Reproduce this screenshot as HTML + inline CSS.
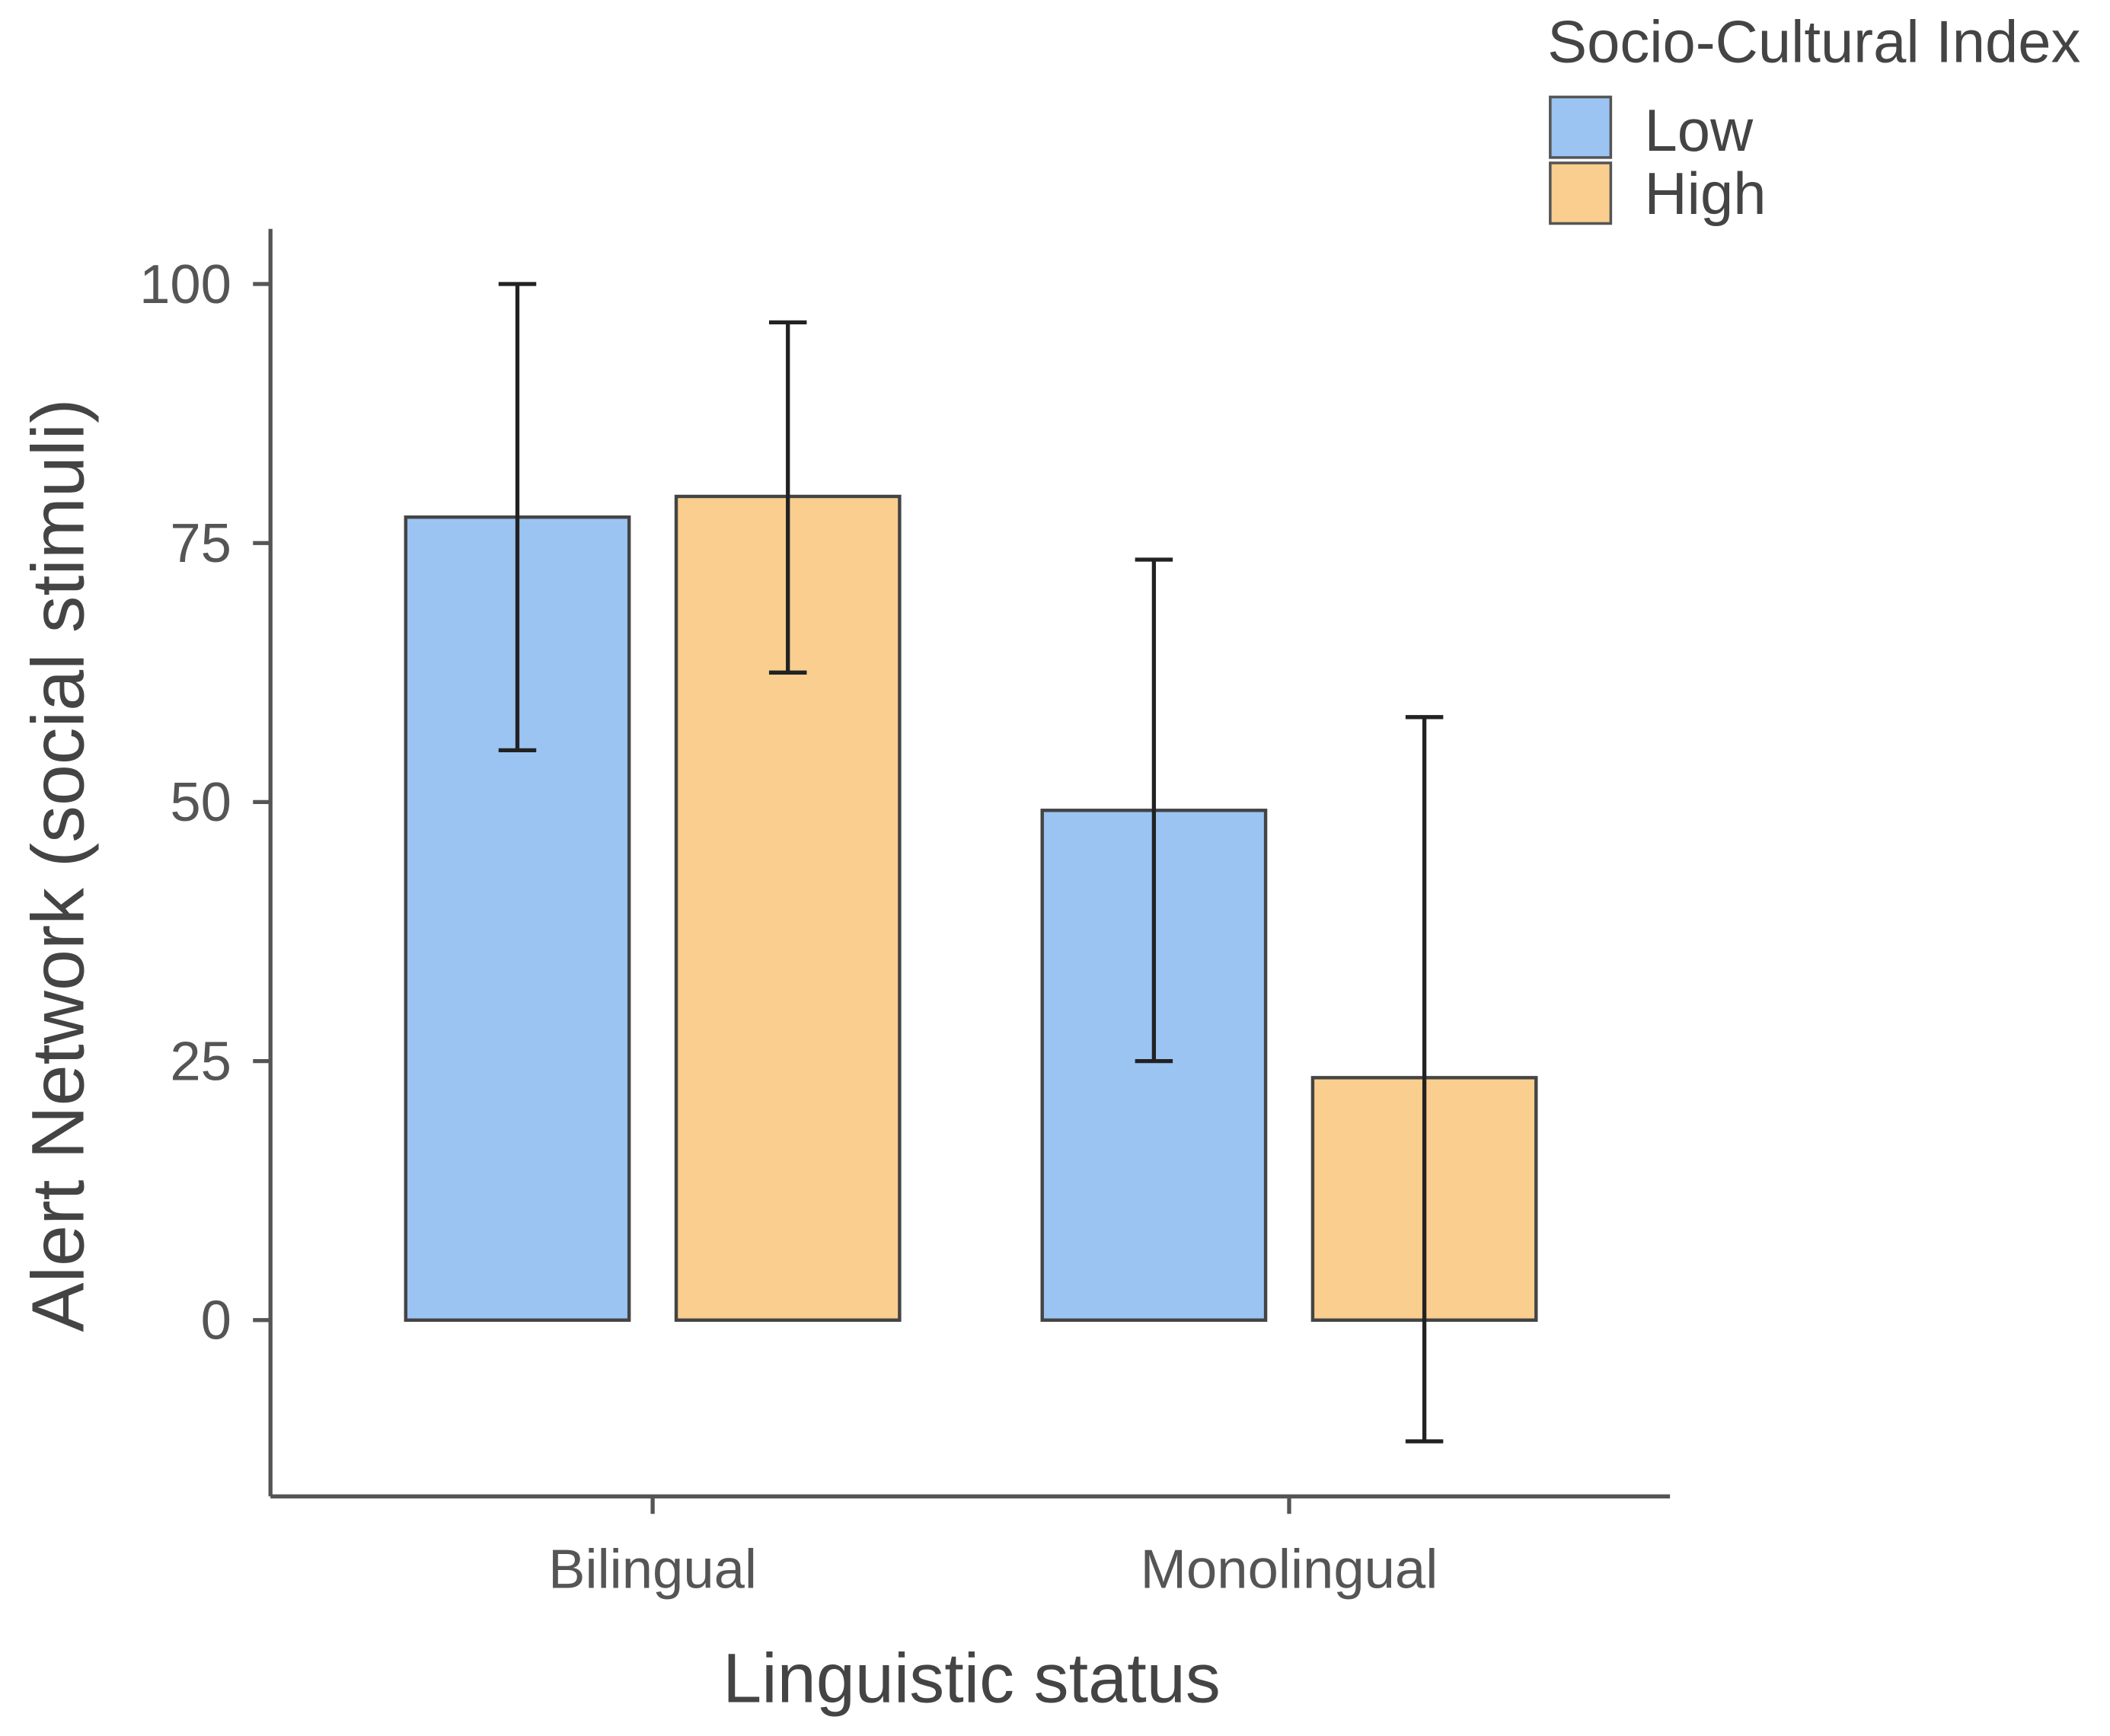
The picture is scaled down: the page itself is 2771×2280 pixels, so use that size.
<!DOCTYPE html>
<html><head><meta charset="utf-8"><style>
html,body{margin:0;padding:0;background:#fff;}
svg{display:block;}
text{font-family:"Liberation Sans",sans-serif;}
</style></head><body>
<svg id="chart" width="2771" height="2280" viewBox="0 0 1568 1290" xmlns="http://www.w3.org/2000/svg">
<g id="plot"></g>
<text x="0" y="0" transform="translate(62,643) rotate(-90)" text-anchor="middle" font-size="55" fill="#444">Alert Network (social stimuli)</text>
<text x="722" y="1265" text-anchor="middle" font-size="52" fill="#444">Linguistic status</text>
<g>
<text x="1150" y="46" font-size="44" fill="#444">Socio-Cultural Index</text>
<rect x="1152" y="72" width="45" height="45" fill="#9bc4f3" stroke="#555" stroke-width="2"/>
<text x="1222" y="112" font-size="44" fill="#444">Low</text>
<rect x="1152" y="121" width="45" height="45" fill="#f9ce8e" stroke="#555" stroke-width="2"/>
<text x="1222" y="159" font-size="44" fill="#444">High</text>
</g>
</svg>
<script>
const categories = ["Bilingual", "Monolingual"];
const seriesNames = ["Low", "High"];
const lowMeans = [77.5, 49.2];
const highMeans = [79.5, 23.4];
const lowUpper = [100, 73.4];
const lowLower = [55, 25];
const highUpper = [96.3, 58.2];
const highLower = [62.5, -11.7];
const yTicks = [0, 25, 50, 75, 100];

const NS = "http://www.w3.org/2000/svg";
const g = document.getElementById("plot");
const y0 = 981, pxPer = 7.7;
function yScale(v){ return y0 - v * pxPer; }
const catCenters = [485, 958];
function xScale(i){ return catCenters[0] + i * (catCenters[1] - catCenters[0]); }
const barW = 166, gap = 35;
function mk(tag, attrs){ const e = document.createElementNS(NS, tag); for (const k in attrs) e.setAttribute(k, attrs[k]); g.appendChild(e); return e; }

let ax = mk("line", {x1:201, y1:170, x2:201, y2:1112, stroke:"#555", "stroke-width":3});


let bx = mk("line", {x1:201, y1:1112, x2:1241, y2:1112, stroke:"#555", "stroke-width":3});



yTicks.forEach(t => {
  const y = yScale(t);
  const tk = mk("line", {x1:188, y1:y, x2:201, y2:y, stroke:"#555", "stroke-width":3});
  
  
  const tl = mk("text", {x:172, y:y + 14, "text-anchor":"end", "font-size":41, fill:"#555"});
  tl.textContent = t;
  
  
});

categories.forEach((c, i) => {
  const cx = xScale(i);
  const tk = mk("line", {x1:cx, y1:1112, x2:cx, y2:1125, stroke:"#555", "stroke-width":3});
  
  
  const tl = mk("text", {x:cx, y:1180, "text-anchor":"middle", "font-size":41, fill:"#555"});
  tl.textContent = c;
  
  

  const series = [[lowMeans, lowUpper, lowLower, "#9bc4f3"], [highMeans, highUpper, highLower, "#f9ce8e"]];
  series.forEach((s, j) => {
    const left = j === 0 ? cx - gap/2 - barW : cx + gap/2;
    const yt = yScale(s[0][i]), yb = yScale(0);
    const r = mk("rect", {x:left, y:Math.min(yt,yb), width:barW, height:Math.abs(yb-yt), fill:s[3], stroke:"#444", "stroke-width":2.5});
    
    
    const mx = left + barW/2, yu = yScale(s[1][i]), yl = yScale(s[2][i]);
    const e = mk("path", {d:`M${mx-14},${yu}H${mx+14}M${mx},${yu}V${yl}M${mx-14},${yl}H${mx+14}`, stroke:"#222", "stroke-width":3, fill:"none"});
    
    
  });
});
</script>
</body></html>
